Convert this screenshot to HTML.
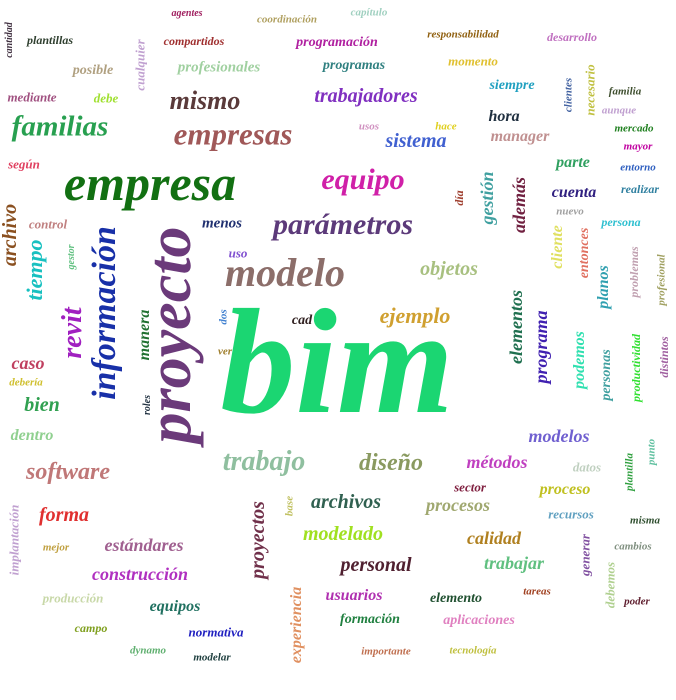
<!DOCTYPE html>
<html><head><meta charset="utf-8">
<style>
html,body{margin:0;padding:0;background:#fff;}
#cloud{position:relative;width:676px;height:700px;overflow:hidden;background:#fff;}
#cloud span{position:absolute;white-space:nowrap;font-family:"Liberation Serif",serif;font-style:italic;font-weight:bold;line-height:1;}
</style></head>
<body>
<div id="cloud"></div>
<script>
const words=["bim","proyecto","empresa","modelo","información","empresas","familias","parámetros","equipo","trabajo","mismo","software","diseño","ejemplo","objetos","trabajadores","sistema","revit","tiempo","archivo","bien","caso","forma","estándares","construcción","archivos","procesos","modelado","personal","calidad","trabajar","usuarios","elemento","formación","aplicaciones","equipos","normativa","campo","dynamo","modelar","importante","tecnología","producción","mejor","implantación","proyectos","base","experiencia","métodos","modelos","datos","sector","proceso","recursos","misma","cambios","generar","debemos","tareas","poder","plantilla","punto","elementos","programa","podemos","personas","productividad","distintos","planos","problemas","profesional","cliente","entonces","gestión","además","día","nuevo","persona","cuenta","realizar","parte","entorno","mayor","mercado","aunque","familia","clientes","necesario","siempre","hora","manager","usos","hace","momento","programas","profesionales","posible","cualquier","mediante","debe","plantillas","cantidad","compartidos","programación","responsabilidad","desarrollo","agentes","coordinación","capítulo","según","control","gestor","menos","uso","cad","dos","ver","manera","roles","debería","dentro"];
const weights=[150,62,50,40,34,31,29,30,30,28,26,24,24,22,20,20,20,28,22,20,20,18,20,18,18,20,18,20,20,18,18,16,14,14,14,16,13,12,11,11,11,11,13,11,13,20,11,16,18,18,13,13,16,13,11,11,13,13,11,11,11,11,18,18,16,14,12,12,16,12,11,16,14,18,18,12,11,12,16,12,16,11,11,11,11,11,11,13,14,16,16,11,11,13,14,15,14,13,13,13,12,10,12,14,11,12,10,11,11,13,13,10,15,13,14,11,11,16,10,11,16];
const colors=["#1bd672","#6b3a7a","#127012","#8c6e6a","#1830a8","#a05858","#28a050","#5c3a7a","#d020a8","#8fbf9f","#5a3a3a","#c07878","#8a9a60","#d0a030","#a8c080","#8030c0","#4060d0","#a020c0","#18c0c0","#8a5020","#30a050","#c04060","#e03030","#a06090","#b030c0","#306050","#a0a870","#a0e020","#502030","#b08020","#60c080","#b030b0","#205030","#208040","#e080c0","#207060","#2020c0","#80a020","#60b070","#204040","#c07050","#c0c040","#c8d8a8","#c0a040","#c0a0d0","#70304a","#c0c060","#e09060","#c040c0","#7060d0","#c0d0c0","#802040","#c0c020","#60a0c0","#305030","#809080","#8050a0","#b0d090","#a04020","#602030","#30a040","#60c0a0","#207050","#4020b0","#30e0b0","#40a0a0","#30e030","#a060a0","#30a0b0","#c0a0b0","#a0a060","#e0e060","#e07060","#40a0a0","#702040","#a04030","#a0a0a0","#30c0d0","#302080","#3080a0","#30a060","#3060c0","#c000a0","#208020","#c0a0d0","#405030","#4060a0","#c0c040","#20a0c0","#203040","#c09090","#d090c0","#e0d020","#e0c030","#308080","#a0d0a0","#b0a080","#c0a0d0","#a05080","#a0e030","#304030","#403040","#a03030","#b020a0","#906010","#c070c0","#a02060","#b0a060","#a0d0c0","#e04060","#c08080","#60c080","#203070","#8050d0","#302020","#4080d0","#a08030","#207030","#203040","#d0c030","#90d090"];
const rotated=[0,1,0,0,1,0,0,0,0,0,0,0,0,0,0,0,0,1,1,1,0,0,0,0,0,0,0,0,0,0,0,0,0,0,0,0,0,0,0,0,0,0,0,0,1,1,1,1,0,0,0,0,0,0,0,0,1,1,0,0,1,1,1,1,1,1,1,1,1,1,1,1,1,1,1,1,0,0,0,0,0,0,0,0,0,0,1,1,0,0,0,0,0,0,0,0,0,1,0,0,0,1,0,0,0,0,0,0,0,0,0,1,0,0,0,1,0,1,1,0,0];
const layoutX=[337,170,150,285,105,233,60,343,363,264,205,68,391,415,449,366,416,73,35,10,42,28,64,144,140,346,458,343,376,494,514,354,456,370,479,175,216,91,148,212,386,473,73,56,14,258,290,297,497,559,587,470,565,571,645,633,585,610,537,637,630,652,516,541,580,607,636,664,604,634,662,558,585,487,519,459,570,621,574,640,573,638,638,634,619,625,569,590,512,504,520,369,446,473,354,219,93,140,32,106,50,10,194,337,463,572,187,287,369,24,48,72,222,238,302,224,225,145,148,26,32];
const layoutY=[362,335,183,273,313,134,127,225,180,462,101,472,463,316,269,96,141,333,270,235,405,363,515,545,574,502,505,534,565,538,563,596,599,620,621,607,632,628,651,658,652,651,598,548,540,540,506,625,462,436,467,487,490,514,521,547,555,585,592,602,472,452,327,347,360,375,368,357,287,272,280,247,253,198,205,198,212,222,193,189,163,168,147,129,111,92,95,90,86,117,137,127,127,61,66,68,71,65,97,98,40,40,41,43,35,37,14,20,13,164,224,257,224,253,321,317,352,335,405,383,436];
const cloud=document.getElementById('cloud');
for(let i=0;i<words.length;i++){
  const el=document.createElement('span');
  el.textContent=words[i];
  
  
  el.style.fontSize=weights[i]+'px';
  el.style.color=colors[i];
  el.style.left=layoutX[i]+'px';
  el.style.top=layoutY[i]+'px';
  el.style.transform='translate(-50%,-50%)'+(rotated[i]?' rotate(-90deg)':'');
  cloud.appendChild(el);
}
</script>
</body></html>
